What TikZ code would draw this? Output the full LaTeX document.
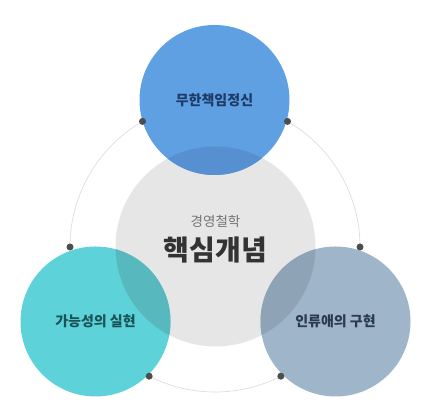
\documentclass[tikz,border=0pt]{standalone}
\usepackage{fontspec}
\usetikzlibrary{calc}
\newfontfamily\kr{Noto Sans CJK KR}
\definecolor{dutyblue}{HTML}{5EA0E2}
\definecolor{dutydark}{HTML}{5690D0}
\definecolor{dutytext}{HTML}{1E3A66}
\definecolor{hopeteal}{HTML}{5DD3D9}
\definecolor{hopedark}{HTML}{57B9BD}
\definecolor{hopetext}{HTML}{1A5256}
\definecolor{loveslate}{HTML}{9FB5CA}
\definecolor{lovedark}{HTML}{8FA3B6}
\definecolor{lovetext}{HTML}{2B3A4F}
\definecolor{coregray}{HTML}{E6E6E6}
\definecolor{ringgray}{HTML}{DDDDDD}
\definecolor{dotgray}{HTML}{4D4D4D}
\tikzset{
  bubble/.style={circle, inner sep=0pt, outer sep=0pt, minimum size=150pt},
  label/.style={font=\kr\fontsize{14}{16}\selectfont\bfseries},
  pin/.style={circle, fill=dotgray, inner sep=0pt, minimum size=7pt}
}
\begin{document}
\begin{tikzpicture}[x=1pt, y=1pt]
\useasboundingbox (0,0) rectangle (424,419);
% guide ring
\coordinate (ring) at (215,172);
\draw[ringgray, line width=0.7pt] (ring) circle (145);
% circles
\node[bubble, fill=coregray, minimum size=200pt] (core) at (215.5,172.5) {};
\node[bubble, fill=dutyblue] (duty) at (214.5,319) {};
\node[bubble, fill=hopeteal] (hope) at (95.5,97.5) {};
\node[bubble, fill=loveslate] (love) at (335.5,97.5) {};
% overlaps
\begin{scope}
\clip (core.center) circle (100);
\fill[dutydark] (duty.center) circle (75);
\fill[hopedark] (hope.center) circle (75);
\fill[lovedark] (love.center) circle (75);
\end{scope}
% dots on the ring
\node[pin] (p1) at ($(ring)+(120:145)$) {};
\node[pin] (p2) at ($(ring)+(60:145)$) {};
\node[pin] (p3) at ($(ring)+(180:145)$) {};
\node[pin] (p4) at ($(ring)+(0:145)$) {};
\node[pin] (p5) at ($(ring)+(243:145)$) {};
\node[pin] (p6) at ($(ring)+(297:145)$) {};
% texts
\node[label, text=dutytext] (dutylabel) at (duty.center) {무한책임정신};
\node[label, text=hopetext] (hopelabel) at (hope.center) {가능성의 실현};
\node[label, text=lovetext] (lovelabel) at (love.center) {인류애의 구현};
\node[font=\kr\fontsize{13.5}{15}\selectfont, text=black!55] (sub) at (215.5,198) {경영철학};
\node[font=\kr\fontsize{28}{32}\selectfont\bfseries, text=black!80] (main) at (215.5,169) {핵심개념};
\end{tikzpicture}
\end{document}
